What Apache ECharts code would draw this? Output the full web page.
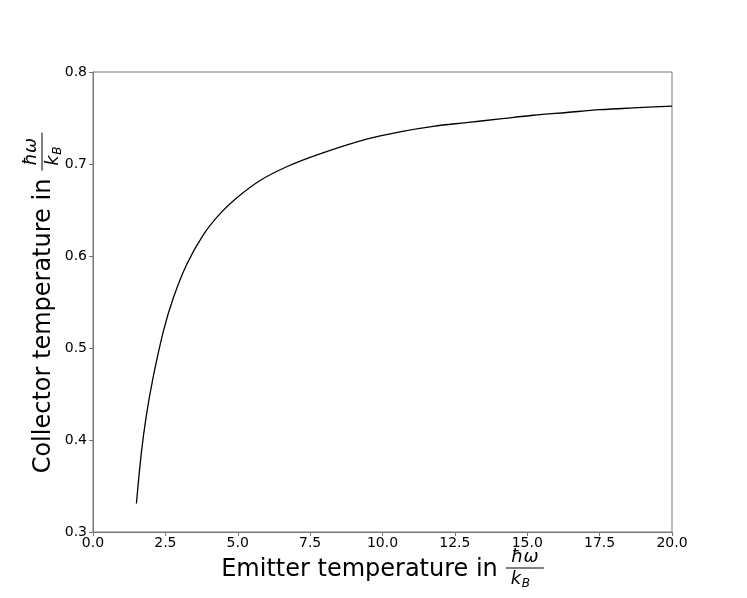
<!DOCTYPE html>
<html>
<head>
<meta charset="utf-8">
<script src="https://cdn.jsdelivr.net/npm/echarts@6/dist/echarts.min.js"></script>
<style>
html,body{margin:0;padding:0;background:#fff;}
#chart{width:747px;height:598px;}
</style>
</head>
<body>
<div id="chart"></div>
<script>
// Emitter temperature (x) and collector temperature (y), in units of ħω/k_B
var emitterT = [1.50, 1.67, 1.84, 2.07, 2.43, 2.77, 3.24, 3.81, 4.39, 4.96, 5.77, 6.69, 7.84, 9.45, 10.6, 11.75, 12.9, 14.06, 15.21, 16.36, 17.51, 18.66, 20.0];
var collectorT = [0.331, 0.386, 0.426, 0.467, 0.518, 0.554, 0.591, 0.623, 0.646, 0.663, 0.682, 0.697, 0.711, 0.727, 0.735, 0.741, 0.745, 0.749, 0.753, 0.756, 0.759, 0.761, 0.763];
var xTitleText = 'Emitter temperature in';
var yTitleText = 'Collector temperature in';
var fracNum = 'ħω';
var fracDen = 'k';
var fracSub = 'B';

var FONT = '"DejaVu Sans", "Liberation Sans", sans-serif';
var AXIS_COLOR = '#777';

function titleChildren(mainText) {
  // local coords: origin = centre of whole label (x), baseline (y)
  var mainW = echarts.format.getTextRect ? echarts.format.getTextRect(mainText, '24px ' + FONT).width : mainText.length * 12.6;
  var fracW = 38, gap = 8;
  var total = mainW + gap + fracW;
  var start = -total / 2;
  var fl = start + mainW + gap;
  return [
    {type: 'text', x: start, y: -8.3, style: {text: mainText, font: '24px ' + FONT, fill: '#000', align: 'left', verticalAlign: 'middle'}},
    {type: 'text', x: fl + fracW / 2, y: -21, style: {text: fracNum, font: 'italic 18px ' + FONT, fill: '#000', align: 'center', verticalAlign: 'middle'}},
    {type: 'line', shape: {x1: fl, y1: -10, x2: fl + fracW, y2: -10}, style: {stroke: '#000', lineWidth: 1}},
    {type: 'text', x: fl + 5, y: 1.5, style: {text: fracDen, font: 'italic 18px ' + FONT, fill: '#000', align: 'left', verticalAlign: 'middle'}},
    {type: 'text', x: fl + 16, y: 6.2, style: {text: fracSub, font: 'italic 12px ' + FONT, fill: '#000', align: 'left', verticalAlign: 'middle'}}
  ];
}

var seriesData = emitterT.map(function (x, i) { return [x, collectorT[i]]; });

var chart = echarts.init(document.getElementById('chart'), null, {renderer: 'canvas'});
chart.setOption({
  animation: false,
  backgroundColor: '#fff',
  grid: {left: 93, right: 75, top: 72, bottom: 66, containLabel: false, show: true, borderColor: AXIS_COLOR, borderWidth: 1, backgroundColor: 'transparent'},
  xAxis: {
    type: 'value', min: 0, max: 20, interval: 2.5,
    axisLine: {show: true, lineStyle: {color: AXIS_COLOR, width: 1}},
    axisTick: {show: true, length: 4, inside: false, lineStyle: {color: AXIS_COLOR}},
    axisLabel: {margin: 4, color: '#000', fontSize: 14, fontFamily: FONT, formatter: function (v) { return v.toFixed(1); }},
    splitLine: {show: false}
  },
  yAxis: {
    type: 'value', min: 0.3, max: 0.8, interval: 0.1,
    axisLine: {show: true, lineStyle: {color: AXIS_COLOR, width: 1}},
    axisTick: {show: true, length: 4, inside: false, lineStyle: {color: AXIS_COLOR}},
    axisLabel: {margin: 6, color: '#000', fontSize: 14, fontFamily: FONT, formatter: function (v) { return v.toFixed(1); }},
    splitLine: {show: false}
  },
  series: [{
    type: 'line',
    data: seriesData,
    smooth: 0.35,
    showSymbol: false,
    lineStyle: {color: '#000', width: 1.3},
    itemStyle: {color: '#000'}
  }],
  graphic: [
    {type: 'group', x: 382.5, y: 578, children: titleChildren(xTitleText)},
    {type: 'group', x: 52, y: 303, rotation: Math.PI / 2, children: titleChildren(yTitleText)}
  ]
});
</script>
</body>
</html>
